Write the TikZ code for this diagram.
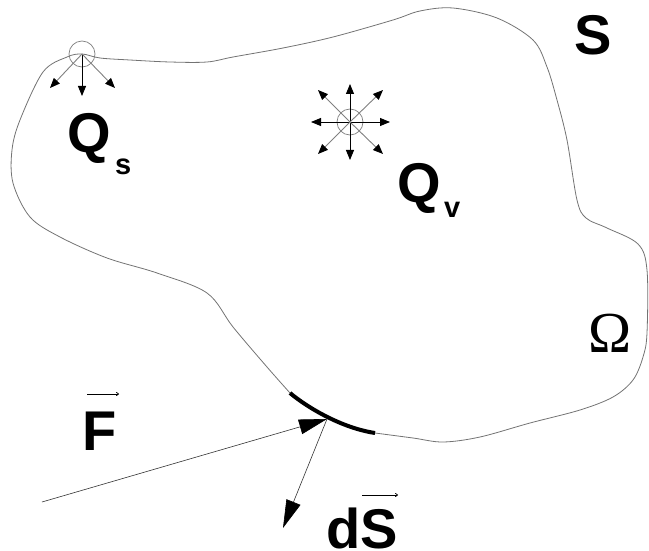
\documentclass[tikz,border=0pt]{standalone}
\usepackage{fontspec}
\setmainfont{Liberation Sans}
\newfontfamily\omfont{Liberation Serif}
\usetikzlibrary{arrows.meta}
\begin{document}
\begin{tikzpicture}[x=1pt,y=-1pt,
  outline/.style={draw=black!55, line width=0.8pt},
  thickarc/.style={draw=black, line width=4pt},
  big/.style={inner sep=0pt, anchor=base west, font=\fontsize{56}{56}\selectfont\bfseries},
  small/.style={inner sep=0pt, anchor=base west, font=\fontsize{29}{29}\selectfont\bfseries},
  src/.style={circle, draw=black!50, line width=0.7pt, minimum size=26pt, inner sep=0pt},
  ray/.style={-{Triangle[length=10pt,width=8pt]}, line width=0.9pt, black},
  dray/.style={-{Triangle[length=10pt,width=8pt,color=black]}, line width=0.9pt, draw=black!50},
  vecbar/.style={-{To[length=3pt,width=4pt]}, line width=0.7pt},
  force/.style={-{Triangle[length=28pt,width=15pt,color=black]}, line width=0.6pt, draw=black!80}
]
\useasboundingbox (0,0) rectangle (649,551);

% boundary of the domain
\draw[outline] plot[smooth, tension=0.55] coordinates {
  (290,393) (267,367) (233,327)
  (207,293) (157,273) (107,258) (60,237) (30,217) (13,183) (12,150)
  (20,120) (43,72) (67,57) (82,54) (100,58) (130,60) (170,62) (207,62) (233,57)
  (283,48) (333,37) (393,20) (420,11) (453,8) (497,18) (533,40) (547,67)
  (557,100) (567,140) (577,200) (586,218) (607,228) (638,244) (647,270)
  (647,333) (643,357) (633,380) (613,397) (580,410) (530,423) (480,437)
  (443,442) (413,438) (375,433)};

% surface element dS
\coordinate (arcA) at (290,393);
\coordinate (arcB) at (375,433);
\draw[thickarc] (arcA) .. controls (308,408) and (342,428) .. (arcB);

% surface source Qs
\node[src] (qs) at (82,54) {};
\coordinate (qs1) at (50,88);
\coordinate (qs2) at (82,96);
\coordinate (qs3) at (115,88);
\draw[dray] (qs.center) -- (qs1);
\draw[ray] (qs.center) -- (qs2);
\draw[dray] (qs.center) -- (qs3);

% volume source Qv
\node[src] (qv) at (350,122) {};
\coordinate (v1) at (350,84);
\coordinate (v2) at (350,160);
\coordinate (v3) at (311,122);
\coordinate (v4) at (390,122);
\coordinate (v5) at (318,90);
\coordinate (v6) at (383,90);
\coordinate (v7) at (318,154);
\coordinate (v8) at (383,154);
\foreach \t in {v1,v2,v3,v4} \draw[ray] (qv.center) -- (\t);
\foreach \t in {v5,v6,v7,v8} \draw[dray] (qv.center) -- (\t);

% labels
\node[big] (Q1) at (67,153) {Q};
\node[small] (s1) at (115,175) {s};
\node[big] (Q2) at (397,203) {Q};
\node[small] (v0) at (444,217) {v};
\node[big] (S) at (574,55) {S};
\node[inner sep=0pt, anchor=base west, font=\fontsize{58}{58}\selectfont\omfont] (Om) at (588,352) {Ω};

% force F
\node[big] (F) at (82,450) {F};
\coordinate (Fa) at (87,394);
\coordinate (Fb) at (119,394);
\draw[vecbar] (Fa) -- (Fb);
\coordinate (Fstart) at (42,502);
\coordinate (Ftip) at (327,419);
\draw[force] (Fstart) -- (Ftip);

% normal dS
\coordinate (dStip) at (283,528);
\draw[force] (Ftip) -- (dStip);
\node[big, text depth=0pt] (dS) at (326,548) {dS};
\coordinate (Sa) at (362,495);
\coordinate (Sb) at (398,495);
\draw[vecbar] (Sa) -- (Sb);
\end{tikzpicture}
\end{document}
